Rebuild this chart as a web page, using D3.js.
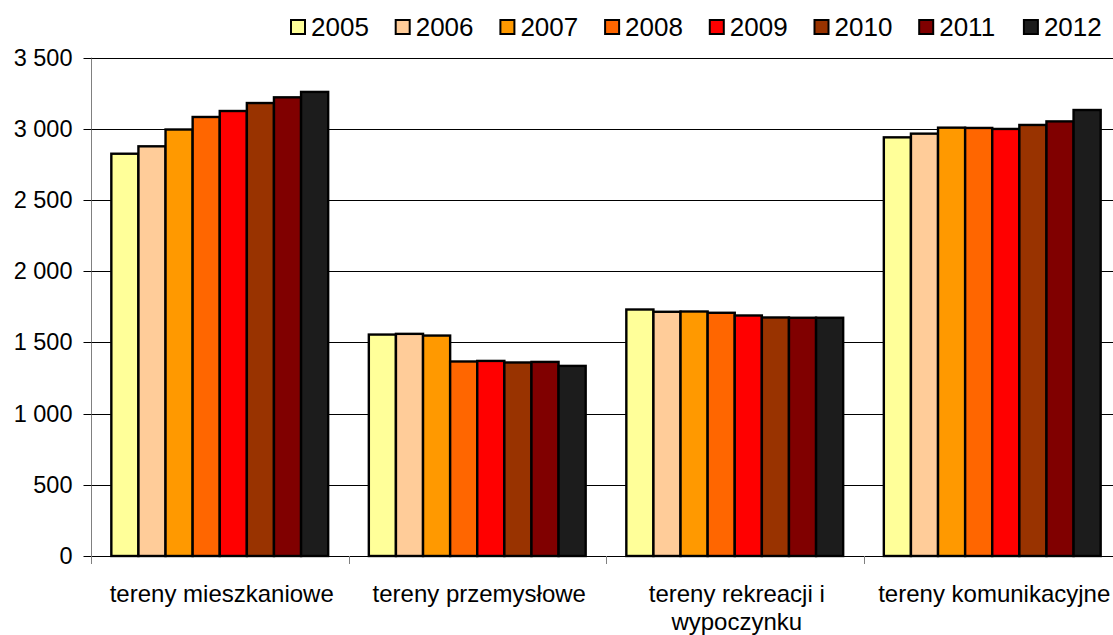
<!DOCTYPE html>
<html>
<head>
<meta charset="utf-8">
<script src="https://cdn.jsdelivr.net/npm/d3@7"></script>
<style>
  html, body { margin: 0; padding: 0; background: #fff; }
  svg { display: block; }
  text { font-family: "Liberation Sans", Arial, sans-serif; fill: #000; }
</style>
</head>
<body>
<svg id="chart" width="1113" height="635"></svg>
<script>
const categories = ["tereny mieszkaniowe", "tereny przemysłowe", "tereny rekreacji i wypoczynku", "tereny komunikacyjne"];
const years = ["2005", "2006", "2007", "2008", "2009", "2010", "2011", "2012"];
const colors = ["#FFFF99", "#FFCC99", "#FF9900", "#FF6600", "#FF0000", "#993300", "#800000", "#1c1c1c"];
// values per category, in year order
const mieszkaniowe = [2825, 2877, 2995, 3083, 3125, 3181, 3221, 3259];
const przemyslowe = [1555, 1560, 1548, 1366, 1370, 1359, 1363, 1335];
const rekreacji = [1731, 1715, 1717, 1708, 1689, 1675, 1673, 1673];
const komunikacyjne = [2940, 2966, 3008, 3006, 2999, 3027, 3052, 3132];
const seriesByCategory = [mieszkaniowe, przemyslowe, rekreacji, komunikacyjne];
const yTicks = [0, 500, 1000, 1500, 2000, 2500, 3000, 3500];

const svg = d3.select("#chart");
const mLeft = 91, mTop = 57.6, mBottom = 556;
const groupW = 257.5;
const mRight = mLeft + groupW * categories.length;

const x0 = d3.scaleBand().domain(categories).range([mLeft, mRight]).paddingInner(0).paddingOuter(0);
const x1 = d3.scaleBand().domain(years).range([0, groupW]).paddingInner(0).paddingOuter(0.75);
const y = d3.scaleLinear().domain([0, 3500]).range([mBottom, mTop]);

const fmt = v => d3.format(",")(v).replace(/,/g, "\u00a0");

// gridlines
svg.append("g").selectAll("line").data(yTicks.filter(d => d > 0)).join("line")
  .attr("x1", mLeft).attr("x2", 1113)
  .attr("y1", d => Math.round(y(d)) + 0.5).attr("y2", d => Math.round(y(d)) + 0.5)
  .attr("stroke", "#000").attr("stroke-width", 1);

// y axis
const yAxis = d3.axisLeft(y).tickValues(yTicks).tickSize(8).tickPadding(11).tickFormat(fmt);
const gy = svg.append("g").attr("transform", `translate(${mLeft + 0.5},0)`).call(yAxis);
gy.select(".domain").attr("stroke", "#808080").attr("d", `M0,${mTop}V${mBottom + 8}`);
gy.selectAll(".tick line").attr("stroke", "#000");
gy.selectAll(".tick text").style("font-size", "23.5px").attr("font-family", null);
gy.selectAll(".tick").attr("transform", d => `translate(0,${Math.round(y(d)) + 0.5})`);

// bars
const groups = svg.append("g").selectAll("g").data(categories).join("g")
  .attr("transform", d => `translate(${x0(d)},0)`);
groups.selectAll("rect").data((d, i) => seriesByCategory[i].map((v, j) => ({ year: years[j], v, c: colors[j] })))
  .join("rect")
  .attr("x", d => x1(d.year))
  .attr("width", x1.bandwidth())
  .attr("y", d => y(d.v))
  .attr("height", d => mBottom - y(d.v))
  .attr("fill", d => d.c)
  .attr("stroke", "#000")
  .attr("stroke-width", 2.4);

// x axis
const xAxis = d3.axisBottom(x0).tickSize(0).tickFormat("");
const gx = svg.append("g").attr("transform", `translate(0,${mBottom + 0.5})`).call(xAxis);
gx.select(".domain").attr("stroke", "#000").attr("d", `M${mLeft},0H1113`);
// category separators
svg.append("g").selectAll("line").data(d3.range(categories.length + 1)).join("line")
  .attr("x1", i => Math.round(mLeft + i * groupW) + 0.5).attr("x2", i => Math.round(mLeft + i * groupW) + 0.5)
  .attr("y1", mBottom).attr("y2", mBottom + 8)
  .attr("stroke", "#808080");

// category labels with wrapping
const labels = svg.append("g").selectAll("text").data(categories).join("text")
  .attr("text-anchor", "middle")
  .style("font-size", "24px")
  .attr("x", d => x0(d) + groupW / 2 + 2)
  .attr("y", 602);
labels.each(function(d) {
  const t = d3.select(this);
  const words = d.split(" ");
  let line = [], lines = [];
  const tmp = t.append("tspan");
  words.forEach(w => {
    const test = line.concat([w]).join(" ");
    tmp.text(test);
    if (tmp.node().getComputedTextLength() > 245 && line.length) {
      lines.push(line.join(" "));
      line = [w];
    } else line.push(w);
  });
  lines.push(line.join(" "));
  tmp.remove();
  lines.forEach((l, i) => t.append("tspan").attr("x", t.attr("x")).attr("dy", i === 0 ? 0 : 28).text(l));
});

// legend
const legend = svg.append("g").selectAll("g").data(years).join("g")
  .attr("transform", (d, i) => `translate(${291 + i * 104.7},0)`);
legend.append("rect").attr("x", 0).attr("y", 20).attr("width", 14).attr("height", 14)
  .attr("fill", (d, i) => colors[i]).attr("stroke", "#000").attr("stroke-width", 2);
legend.append("text").attr("x", 20).attr("y", 36).style("font-size", "26px").text(d => d);
</script>
</body>
</html>
